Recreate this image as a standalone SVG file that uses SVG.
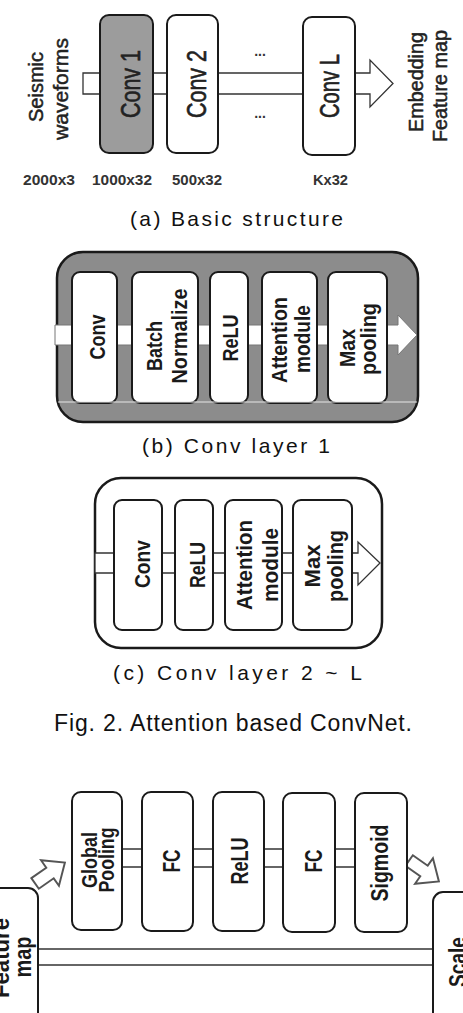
<svg xmlns="http://www.w3.org/2000/svg" width="463" height="1013" viewBox="0 0 463 1013">
<style>
.box{fill:#fff;stroke:#1a1a1a;stroke-width:2}
.gbox{fill:#9c9c9c;stroke:#1a1a1a;stroke-width:2}
.band{fill:#fff;stroke:#333;stroke-width:1.3}
.hol{fill:#fff;stroke:#555;stroke-width:1.5}
.lbl{font-family:"Liberation Sans",Arial,sans-serif;font-size:27px;fill:#222;stroke:#222;stroke-width:0.6;text-anchor:middle}
.reg{font-family:"Liberation Sans",Arial,sans-serif;font-size:21px;fill:#222;stroke:#222;stroke-width:0.5;text-anchor:middle}
.bld{font-family:"Liberation Sans",Arial,sans-serif;font-size:22px;font-weight:bold;fill:#1a1a1a;text-anchor:middle}
.bld24{font-family:"Liberation Sans",Arial,sans-serif;font-size:24px;font-weight:bold;fill:#1a1a1a;text-anchor:middle}
.dim{font-family:"Liberation Sans",Arial,sans-serif;font-size:14px;font-weight:bold;fill:#333}
.cap{font-family:"Liberation Sans",Arial,sans-serif;font-size:21px;fill:#111}
</style>

<!-- (a) Basic structure -->
<g id="connectors">
  <polygon class="band" points="83,73 370,73 370,60 393,83.5 370,107 370,94 83,94"/>
</g>
<g id="conv1"><rect class="gbox" x="100" y="15" width="53" height="138" rx="9"/>
  <text class="lbl" transform="translate(140,84) rotate(-90)" textLength="68" lengthAdjust="spacingAndGlyphs">Conv 1</text></g>
<g id="conv2"><rect class="box" x="167" y="15" width="51" height="138" rx="9"/>
  <text class="lbl" transform="translate(206,84) rotate(-90)" textLength="68" lengthAdjust="spacingAndGlyphs">Conv 2</text></g>
<g id="convL"><rect class="box" x="303" y="17" width="52" height="138" rx="9"/>
  <text class="lbl" transform="translate(339,86) rotate(-90)" textLength="64" lengthAdjust="spacingAndGlyphs">Conv L</text></g>
<g id="dots">
  <text class="dim" x="260" y="56" text-anchor="middle">...</text>
  <text class="dim" x="260" y="118" text-anchor="middle">...</text>
</g>
<g id="input">
  <text class="reg" transform="translate(43,87) rotate(-90)" textLength="70" lengthAdjust="spacingAndGlyphs">Seismic</text>
  <text class="reg" transform="translate(68,89) rotate(-90)" textLength="102" lengthAdjust="spacingAndGlyphs">waveforms</text>
</g>
<g id="output">
  <text class="reg" transform="translate(423,82) rotate(-90)" textLength="100" lengthAdjust="spacingAndGlyphs">Embedding</text>
  <text class="reg" transform="translate(447,86) rotate(-90)" textLength="112" lengthAdjust="spacingAndGlyphs">Feature map</text>
</g>
<g id="dims">
  <text class="dim" x="23" y="185" textLength="52" lengthAdjust="spacingAndGlyphs">2000x3</text>
  <text class="dim" x="92" y="185" textLength="60" lengthAdjust="spacingAndGlyphs">1000x32</text>
  <text class="dim" x="172" y="185" textLength="50" lengthAdjust="spacingAndGlyphs">500x32</text>
  <text class="dim" x="313" y="185" textLength="35" lengthAdjust="spacingAndGlyphs">Kx32</text>
</g>
<text class="cap" x="130" y="226" textLength="213" lengthAdjust="spacing">(a) Basic structure</text>

<!-- (b) Conv layer 1 -->
<g id="layer1">
  <rect x="57" y="252" width="361" height="170" rx="26" fill="#8c8c8c" stroke="#1a1a1a" stroke-width="2.5"/>
  <polygon points="55,325 398,325 398,315 417,335 398,355 398,345 55,345" fill="#fff" stroke="#777" stroke-width="1"/>
  <g id="b-conv"><rect class="box" x="72" y="272" width="45" height="131" rx="8"/>
    <text class="bld" transform="translate(105,337) rotate(-90)" textLength="45" lengthAdjust="spacingAndGlyphs">Conv</text></g>
  <g id="b-bn"><rect class="box" x="132" y="272" width="66" height="131" rx="8"/>
    <text class="bld" transform="translate(162,346) rotate(-90)" textLength="50" lengthAdjust="spacingAndGlyphs">Batch</text>
    <text class="bld" transform="translate(187,336) rotate(-90)" textLength="95" lengthAdjust="spacingAndGlyphs">Normalize</text></g>
  <g id="b-relu"><rect class="box" x="210" y="272" width="38" height="131" rx="8"/>
    <text class="bld" transform="translate(238,338) rotate(-90)" textLength="47" lengthAdjust="spacingAndGlyphs">ReLU</text></g>
  <g id="b-att"><rect class="box" x="262" y="272" width="55" height="131" rx="8"/>
    <text class="bld" transform="translate(287,340) rotate(-90)" textLength="86" lengthAdjust="spacingAndGlyphs">Attention</text>
    <text class="bld" transform="translate(310,339) rotate(-90)" textLength="68" lengthAdjust="spacingAndGlyphs">module</text></g>
  <g id="b-max"><rect class="box" x="328" y="272" width="59" height="131" rx="8"/>
    <text class="bld" transform="translate(355,348) rotate(-90)" textLength="38" lengthAdjust="spacingAndGlyphs">Max</text>
    <text class="bld" transform="translate(376,339) rotate(-90)" textLength="72" lengthAdjust="spacingAndGlyphs">pooling</text></g>
  <line x1="58" y1="402" x2="417" y2="402" stroke="#e6e6e6" stroke-width="1"/>
</g>
<text class="cap" x="142" y="453" textLength="188" lengthAdjust="spacing">(b) Conv layer 1</text>

<!-- (c) Conv layer 2 ~ L -->
<g id="layer2">
  <rect x="95" y="478" width="287" height="170" rx="26" fill="#fff" stroke="#1a1a1a" stroke-width="2.5"/>
  <polygon class="band" points="95,553 358,553 358,542 380,563 358,585 358,573 95,573"/>
  <g id="c-conv"><rect class="box" x="114" y="500" width="48" height="130" rx="8"/>
    <text class="bld" transform="translate(150,564) rotate(-90)" textLength="48" lengthAdjust="spacingAndGlyphs">Conv</text></g>
  <g id="c-relu"><rect class="box" x="175" y="500" width="38" height="130" rx="8"/>
    <text class="bld" transform="translate(205,565) rotate(-90)" textLength="46" lengthAdjust="spacingAndGlyphs">ReLU</text></g>
  <g id="c-att"><rect class="box" x="225" y="500" width="57" height="130" rx="8"/>
    <text class="bld" transform="translate(252,565) rotate(-90)" textLength="90" lengthAdjust="spacingAndGlyphs">Attention</text>
    <text class="bld" transform="translate(278,565) rotate(-90)" textLength="74" lengthAdjust="spacingAndGlyphs">module</text></g>
  <g id="c-max"><rect class="box" x="293" y="500" width="59" height="130" rx="8"/>
    <text class="bld" transform="translate(320,566) rotate(-90)" textLength="43" lengthAdjust="spacingAndGlyphs">Max</text>
    <text class="bld" transform="translate(343,566) rotate(-90)" textLength="72" lengthAdjust="spacingAndGlyphs">pooling</text></g>
</g>
<text class="cap" x="113" y="680" textLength="249" lengthAdjust="spacing">(c) Conv layer 2 ~ L</text>

<text class="cap" x="54" y="731" style="font-size:23px" textLength="358" lengthAdjust="spacing">Fig. 2. Attention based ConvNet.</text>

<!-- Attention module -->
<g id="att-connectors">
  <line x1="122" y1="849" x2="355" y2="849" stroke="#333" stroke-width="1.3"/>
  <line x1="122" y1="867" x2="355" y2="867" stroke="#333" stroke-width="1.3"/>
  <line x1="38" y1="949" x2="433" y2="949" stroke="#333" stroke-width="1.3"/>
  <line x1="38" y1="965" x2="433" y2="965" stroke="#333" stroke-width="1.3"/>
  <path class="hol" transform="translate(50,873) rotate(-35) scale(1.3)" d="M-14,-5 L0,-5 L0,-12 L14,0 L0,12 L0,5 L-14,5 Z"/>
  <path class="hol" transform="translate(424,871) rotate(35) scale(1.3)" d="M-14,-5 L0,-5 L0,-12 L14,0 L0,12 L0,5 L-14,5 Z"/>
</g>
<g id="gpool"><rect class="box" x="72" y="792" width="50" height="138" rx="9"/>
  <text class="bld" transform="translate(97,860) rotate(-90)" textLength="56" lengthAdjust="spacingAndGlyphs">Global</text>
  <text class="bld" transform="translate(114,860) rotate(-90)" textLength="65" lengthAdjust="spacingAndGlyphs">Pooling</text></g>
<g id="fc1"><rect class="box" x="142" y="792" width="51" height="139" rx="9"/>
  <text class="bld24" transform="translate(180,861) rotate(-90)" textLength="23" lengthAdjust="spacingAndGlyphs">FC</text></g>
<g id="relu"><rect class="box" x="213" y="792" width="51" height="139" rx="9"/>
  <text class="bld24" transform="translate(248,861) rotate(-90)" textLength="47" lengthAdjust="spacingAndGlyphs">ReLU</text></g>
<g id="fc2"><rect class="box" x="283" y="793" width="52" height="139" rx="9"/>
  <text class="bld24" transform="translate(322,861) rotate(-90)" textLength="23" lengthAdjust="spacingAndGlyphs">FC</text></g>
<g id="sigmoid"><rect class="box" x="355" y="793" width="52" height="139" rx="9"/>
  <text class="bld24" transform="translate(388,863) rotate(-90)" textLength="77" lengthAdjust="spacingAndGlyphs">Sigmoid</text></g>
<g id="featmap"><rect class="box" x="-12" y="888" width="50" height="140" rx="10"/>
  <text class="bld24" transform="translate(9,958) rotate(-90)" textLength="80" lengthAdjust="spacingAndGlyphs">Feature</text>
  <text class="bld24" transform="translate(31,957) rotate(-90)" textLength="41" lengthAdjust="spacingAndGlyphs">map</text></g>
<g id="scale"><rect class="box" x="433" y="892" width="50" height="140" rx="10"/>
  <text class="bld24" transform="translate(466,962) rotate(-90)" textLength="50" lengthAdjust="spacingAndGlyphs">Scale</text></g>
</svg>
